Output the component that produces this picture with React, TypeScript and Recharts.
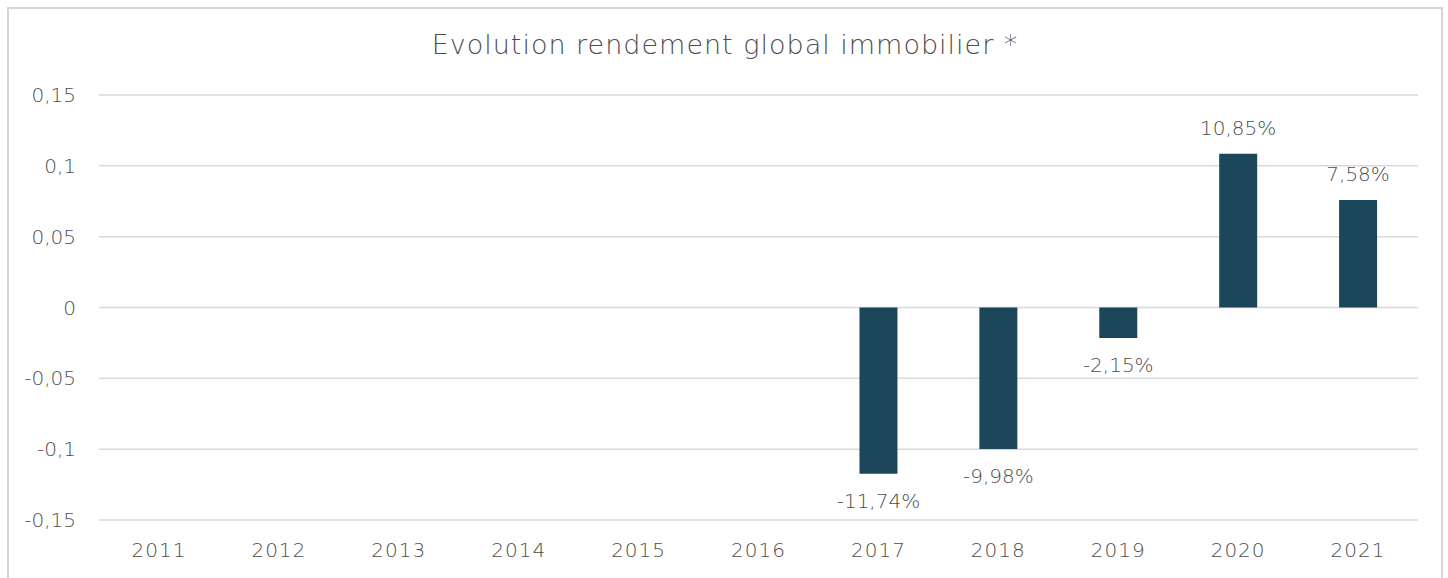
import { BarChart, Bar, XAxis, YAxis, CartesianGrid, LabelList } from 'recharts'

const years = ['2011', '2012', '2013', '2014', '2015', '2016', '2017', '2018', '2019', '2020', '2021']
const rendement: (number | null)[] = [null, null, null, null, null, null, -0.1174, -0.0998, -0.0215, 0.1085, 0.0758]
const yTicks = [-0.15, -0.1, -0.05, 0, 0.05, 0.1, 0.15]

const data = years.map((year, i) => ({ year, value: rendement[i] }))

const FONT = '"DejaVu Sans", sans-serif'
const TEXT = '#4d4d4d'

const fmtAxis = (v: number) => String(v).replace('.', ',')
const fmtPct = (v: number) => (v * 100).toFixed(2).replace('.', ',') + '%'

// étiquette au-dessus des barres positives, en dessous des négatives
const ValueLabel = (props: any) => {
  const { x, y, width, height, value } = props
  if (value == null) return null
  const top = Math.min(y, y + height)
  const bottom = Math.max(y, y + height)
  const ly = value >= 0 ? top - 26 : bottom + 27
  return (
    <text
      x={x + width / 2}
      y={ly}
      textAnchor="middle"
      dominantBaseline="central"
      fontSize={20}
      fontFamily={FONT}
      fontWeight={300}
      fill={TEXT}
    >
      {fmtPct(value)}
    </text>
  )
}

export default function App() {
  return (
    <div
      style={{
        position: 'absolute',
        left: 7,
        top: 7,
        width: 1436,
        height: 600,
        boxSizing: 'border-box',
        borderLeft: '2px solid #d6d6d6',
        borderTop: '2px solid #d6d6d6',
        borderRight: '2px solid #d6d6d6',
        background: '#fff',
        fontFamily: FONT,
      }}
    >
      <div
        style={{
          position: 'absolute',
          top: 20,
          left: 0,
          width: '100%',
          textAlign: 'center',
          fontSize: 27,
          letterSpacing: 1,
          fontWeight: 300,
          color: TEXT,
        }}
      >
        Evolution rendement global immobilier *
      </div>
      <BarChart
        width={1432}
        height={569}
        data={data}
        margin={{ top: 86, right: 23, left: 0, bottom: 28 }}
      >
        <CartesianGrid vertical={false} stroke="#d9d9d9" strokeWidth={1.5} />
        <XAxis
          dataKey="year"
          axisLine={false}
          tickLine={false}
          tickSize={0}
          tickMargin={23}
          height={30}
          tick={{ fontSize: 20, fill: TEXT, fontFamily: FONT, fontWeight: 300, letterSpacing: 1 }}
        />
        <YAxis
          type="number"
          domain={[-0.15, 0.15]}
          ticks={yTicks}
          tickFormatter={fmtAxis}
          axisLine={false}
          tickLine={false}
          tickSize={0}
          tickMargin={23}
          width={90}
          allowDataOverflow
          tick={{ fontSize: 20, fill: TEXT, fontFamily: FONT, fontWeight: 300 }}
        />
        <Bar dataKey="value" fill="#1c4659" barSize={38} isAnimationActive={false}>
          <LabelList dataKey="value" content={<ValueLabel />} />
        </Bar>
      </BarChart>
    </div>
  )
}
